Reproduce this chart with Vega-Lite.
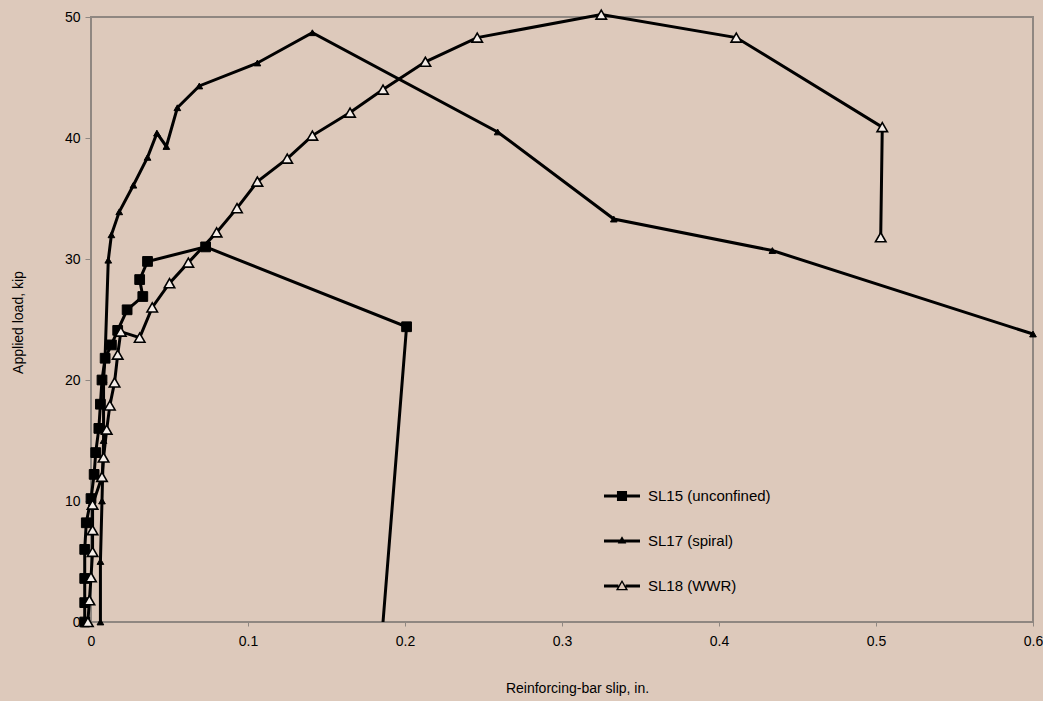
{
  "$schema": "https://vega.github.io/schema/vega-lite/v6.json",
  "width": 942,
  "height": 605,
  "autosize": {"type": "none"},
  "padding": {"left": 91, "top": 17, "right": 10, "bottom": 79},
  "background": "#ddc9bb",
  "config": {
    "view": {"stroke": "#8f8781", "strokeWidth": 2},
    "font": "'Liberation Sans', sans-serif"
  },
  "data": {
    "values": [
      {"s": "SL15 (unconfined)", "i": 1, "x": -0.004, "y": 0},
      {"s": "SL15 (unconfined)", "i": 2, "x": -0.004, "y": 1.6},
      {"s": "SL15 (unconfined)", "i": 3, "x": -0.004, "y": 3.6},
      {"s": "SL15 (unconfined)", "i": 4, "x": -0.004, "y": 6.0},
      {"s": "SL15 (unconfined)", "i": 5, "x": -0.003, "y": 8.2},
      {"s": "SL15 (unconfined)", "i": 6, "x": 0.0, "y": 10.2},
      {"s": "SL15 (unconfined)", "i": 7, "x": 0.002, "y": 12.2},
      {"s": "SL15 (unconfined)", "i": 8, "x": 0.003, "y": 14.0},
      {"s": "SL15 (unconfined)", "i": 9, "x": 0.005, "y": 16.0},
      {"s": "SL15 (unconfined)", "i": 10, "x": 0.006, "y": 18.0},
      {"s": "SL15 (unconfined)", "i": 11, "x": 0.007, "y": 20.0},
      {"s": "SL15 (unconfined)", "i": 12, "x": 0.009, "y": 21.8},
      {"s": "SL15 (unconfined)", "i": 13, "x": 0.013, "y": 22.9},
      {"s": "SL15 (unconfined)", "i": 14, "x": 0.017, "y": 24.1},
      {"s": "SL15 (unconfined)", "i": 15, "x": 0.023, "y": 25.8},
      {"s": "SL15 (unconfined)", "i": 16, "x": 0.033, "y": 26.9},
      {"s": "SL15 (unconfined)", "i": 17, "x": 0.031, "y": 28.3},
      {"s": "SL15 (unconfined)", "i": 18, "x": 0.036, "y": 29.8},
      {"s": "SL15 (unconfined)", "i": 19, "x": 0.073, "y": 31.0},
      {"s": "SL15 (unconfined)", "i": 20, "x": 0.201, "y": 24.4},
      {"s": "SL15 (unconfined)", "i": 21, "x": 0.186, "y": 0},
      {"s": "SL17 (spiral)", "i": 1, "x": 0.006, "y": 0},
      {"s": "SL17 (spiral)", "i": 2, "x": 0.006, "y": 5},
      {"s": "SL17 (spiral)", "i": 3, "x": 0.007, "y": 10},
      {"s": "SL17 (spiral)", "i": 4, "x": 0.008, "y": 15},
      {"s": "SL17 (spiral)", "i": 5, "x": 0.008, "y": 20},
      {"s": "SL17 (spiral)", "i": 6, "x": 0.009, "y": 22},
      {"s": "SL17 (spiral)", "i": 7, "x": 0.011, "y": 29.9},
      {"s": "SL17 (spiral)", "i": 8, "x": 0.013, "y": 32.0},
      {"s": "SL17 (spiral)", "i": 9, "x": 0.018, "y": 33.9},
      {"s": "SL17 (spiral)", "i": 10, "x": 0.027, "y": 36.1},
      {"s": "SL17 (spiral)", "i": 11, "x": 0.036, "y": 38.4},
      {"s": "SL17 (spiral)", "i": 12, "x": 0.042, "y": 40.4},
      {"s": "SL17 (spiral)", "i": 13, "x": 0.048, "y": 39.3},
      {"s": "SL17 (spiral)", "i": 14, "x": 0.055, "y": 42.5},
      {"s": "SL17 (spiral)", "i": 15, "x": 0.069, "y": 44.3},
      {"s": "SL17 (spiral)", "i": 16, "x": 0.106, "y": 46.2},
      {"s": "SL17 (spiral)", "i": 17, "x": 0.141, "y": 48.7},
      {"s": "SL17 (spiral)", "i": 18, "x": 0.259, "y": 40.5},
      {"s": "SL17 (spiral)", "i": 19, "x": 0.333, "y": 33.3},
      {"s": "SL17 (spiral)", "i": 20, "x": 0.434, "y": 30.7},
      {"s": "SL17 (spiral)", "i": 21, "x": 0.6, "y": 23.8},
      {"s": "SL18 (WWR)", "i": 1, "x": -0.002, "y": 0},
      {"s": "SL18 (WWR)", "i": 2, "x": -0.001, "y": 1.8},
      {"s": "SL18 (WWR)", "i": 3, "x": 0.0, "y": 3.7},
      {"s": "SL18 (WWR)", "i": 4, "x": 0.001, "y": 5.8},
      {"s": "SL18 (WWR)", "i": 5, "x": 0.001, "y": 7.6},
      {"s": "SL18 (WWR)", "i": 6, "x": 0.001, "y": 9.7},
      {"s": "SL18 (WWR)", "i": 7, "x": 0.007, "y": 12.0},
      {"s": "SL18 (WWR)", "i": 8, "x": 0.008, "y": 13.6},
      {"s": "SL18 (WWR)", "i": 9, "x": 0.010, "y": 15.9},
      {"s": "SL18 (WWR)", "i": 10, "x": 0.012, "y": 17.9},
      {"s": "SL18 (WWR)", "i": 11, "x": 0.015, "y": 19.8},
      {"s": "SL18 (WWR)", "i": 12, "x": 0.017, "y": 22.1},
      {"s": "SL18 (WWR)", "i": 13, "x": 0.019, "y": 24.0},
      {"s": "SL18 (WWR)", "i": 14, "x": 0.031, "y": 23.5},
      {"s": "SL18 (WWR)", "i": 15, "x": 0.039, "y": 26.0},
      {"s": "SL18 (WWR)", "i": 16, "x": 0.050, "y": 28.0},
      {"s": "SL18 (WWR)", "i": 17, "x": 0.062, "y": 29.7},
      {"s": "SL18 (WWR)", "i": 18, "x": 0.080, "y": 32.2},
      {"s": "SL18 (WWR)", "i": 19, "x": 0.093, "y": 34.2},
      {"s": "SL18 (WWR)", "i": 20, "x": 0.106, "y": 36.4},
      {"s": "SL18 (WWR)", "i": 21, "x": 0.125, "y": 38.3},
      {"s": "SL18 (WWR)", "i": 22, "x": 0.141, "y": 40.2},
      {"s": "SL18 (WWR)", "i": 23, "x": 0.165, "y": 42.1},
      {"s": "SL18 (WWR)", "i": 24, "x": 0.186, "y": 44.0},
      {"s": "SL18 (WWR)", "i": 25, "x": 0.213, "y": 46.3},
      {"s": "SL18 (WWR)", "i": 26, "x": 0.246, "y": 48.3},
      {"s": "SL18 (WWR)", "i": 27, "x": 0.325, "y": 50.2},
      {"s": "SL18 (WWR)", "i": 28, "x": 0.411, "y": 48.3},
      {"s": "SL18 (WWR)", "i": 29, "x": 0.504, "y": 40.9},
      {"s": "SL18 (WWR)", "i": 30, "x": 0.503, "y": 31.8}
    ]
  },
  "encoding": {
    "x": {
      "field": "x",
      "type": "quantitative",
      "scale": {"domain": [0, 0.6], "nice": false, "zero": false},
      "axis": {
        "values": [0, 0.1, 0.2, 0.3, 0.4, 0.5, 0.6],
        "format": "~g",
        "grid": false,
        "domain": false,
        "tickColor": "#8f8781",
        "tickSize": 4,
        "labelPadding": 8,
        "labelFontSize": 14,
        "labelColor": "black",
        "labelFlush": false,
        "title": "Reinforcing-bar slip, in.",
        "titleFontSize": 14,
        "titleFontWeight": "normal",
        "titleColor": "black",
        "titleX": 486,
        "titleY": 66,
        "titleBaseline": "middle"
      }
    },
    "y": {
      "field": "y",
      "type": "quantitative",
      "scale": {"domain": [0, 50], "nice": false, "zero": false},
      "axis": {
        "values": [0, 10, 20, 30, 40, 50],
        "grid": false,
        "domain": false,
        "tickColor": "#8f8781",
        "tickSize": 6,
        "labelPadding": 5,
        "labelFontSize": 14,
        "labelColor": "black",
        "labelFlush": false,
        "title": "Applied load, kip",
        "titleFontSize": 14,
        "titleFontWeight": "normal",
        "titleColor": "black",
        "titleX": -73,
        "titleY": 305,
        "titleBaseline": "middle"
      }
    }
  },
  "layer": [
    {
      "mark": {"type": "line", "color": "black", "strokeWidth": 3, "clip": false},
      "encoding": {
        "detail": {"field": "s"},
        "order": {"field": "i", "type": "quantitative"}
      }
    },
    {
      "transform": [
        {"filter": "datum.s === 'SL15 (unconfined)' && (datum.x < 0.15 || datum.y > 1)"}
      ],
      "mark": {"type": "point", "shape": "square", "filled": true, "fill": "black", "stroke": "black", "strokeWidth": 1, "size": 95, "opacity": 1, "clip": false}
    },
    {
      "transform": [
        {"filter": "datum.s === 'SL17 (spiral)'"}
      ],
      "mark": {"type": "point", "shape": "triangle-up", "filled": true, "fill": "black", "stroke": "black", "strokeWidth": 1, "size": 45, "opacity": 1, "clip": false}
    },
    {
      "transform": [
        {"filter": "datum.s === 'SL18 (WWR)'"}
      ],
      "mark": {"type": "point", "shape": "triangle-up", "filled": true, "fill": "#f4ede8", "stroke": "black", "strokeWidth": 1.6, "size": 110, "opacity": 1, "clip": false}
    },
    {
      "transform": [
        {"filter": "datum.i === 1"}
      ],
      "mark": {"type": "point", "filled": true, "color": "black", "size": 0, "strokeWidth": 0, "clip": false},
      "encoding": {
        "shape": {
          "field": "s",
          "type": "nominal",
          "scale": {
            "domain": ["SL15 (unconfined)", "SL17 (spiral)", "SL18 (WWR)"],
            "range": [
              "M-1,-0.08H1V0.08H-1Z M-0.28,-0.28H0.28V0.28H-0.28Z",
              "M-1,-0.08H1V0.08H-1Z M0,-0.26L0.24,0.14H-0.24Z",
              "M-1,-0.08H-0.2V0.08H-1Z M0.2,-0.08H1V0.08H0.2Z M0,-0.34L0.34,0.24H-0.34Z M0,-0.2L-0.2,0.16H0.2Z"
            ]
          },
          "legend": {
            "orient": "none",
            "legendX": 513,
            "legendY": 461,
            "title": null,
            "symbolSize": 1296,
            "symbolFillColor": "black",
            "symbolStrokeWidth": 0,
            "symbolOpacity": 1,
            "labelFont": "'Liberation Sans', sans-serif",
            "labelFontSize": 15,
            "labelColor": "black",
            "labelOffset": 8,
            "rowPadding": 19
          }
        }
      }
    }
  ]
}
